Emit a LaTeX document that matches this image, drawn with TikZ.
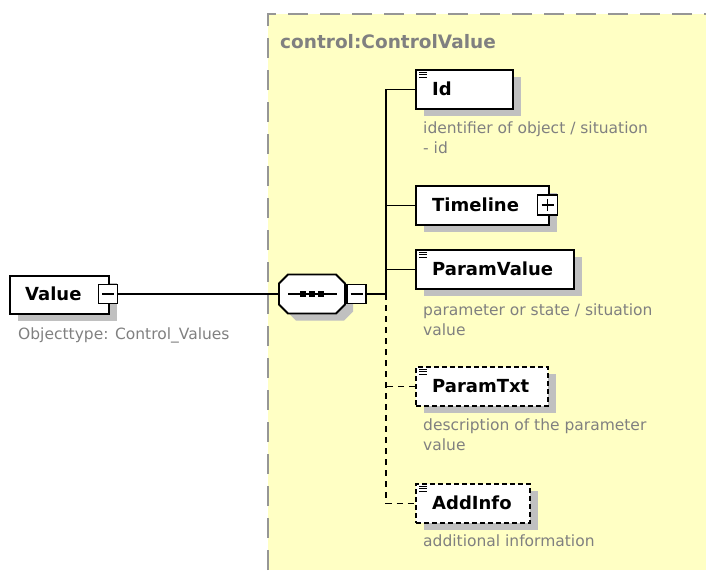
\documentclass[tikz,border=0pt]{standalone}
\usepackage{fontspec}
\setmainfont{DejaVu Sans}
\usetikzlibrary{shadows,calc}
\definecolor{bgyellow}{RGB}{255,255,196}
\definecolor{shadowgrey}{RGB}{192,192,192}
\definecolor{txtgrey}{RGB}{128,128,128}
\definecolor{bordergrey}{RGB}{150,150,150}
\begin{document}
\begin{tikzpicture}[x=1pt,y=-1pt,
  elem/.style={draw=black, line width=1.9pt, fill=white, minimum height=39pt, inner sep=0pt, anchor=north west,
    drop shadow={shadow xshift=8pt, shadow yshift=-7pt, fill=shadowgrey, opacity=1}},
  optelem/.style={elem, dash pattern=on 5pt off 3pt},
  lbl/.style={font=\bfseries\fontsize{18}{20}\selectfont, anchor=west, inner sep=0pt},
  desc/.style={font=\fontsize{15.5}{20}\selectfont, text=txtgrey, anchor=north west, inner sep=0pt, align=left},
  conn/.style={line width=1.8pt},
  optconn/.style={conn, dash pattern=on 6pt off 5pt},
  pm/.style={draw=black, fill=white, line width=1.4pt, minimum size=19pt, inner sep=0pt},
  icon/.style={line width=0.9pt},
]
\useasboundingbox (0,0) rectangle (706,570);
% background area
\fill[bgyellow] (268,14) rectangle (706,570);
\draw[bordergrey, line width=2pt, dash pattern=on 20pt off 12pt] (268,570) -- (268,14) -- (706,14);
\node[font=\bfseries\fontsize{18.5}{20}\selectfont, text=txtgrey, anchor=base west, inner sep=0pt] (title) at (280,48) {control:ControlValue};

% Value element
\node[elem, minimum width=99pt, minimum height=38pt] (val) at (9,275) {};
\node[lbl] (valt) at (25,294) {Value};
\node[pm] (vmin) at (108,294) {};
\draw[line width=1.3pt] ($(vmin.center)+(-6,0)$) -- ($(vmin.center)+(6,0)$);
\node[desc] (valdesc) at (18,328) {Objecttype: Control\_Values};

% sequence compositor
\fill[shadowgrey] (296,281.5) -- (344,281.5) -- (353,290.5) -- (353,311.5) -- (344,320.5) -- (296,320.5) -- (287,311.5) -- (287,290.5) -- cycle;
\draw[line width=1.9pt, fill=white] (288,274.5) -- (336,274.5) -- (345,283.5) -- (345,304.5) -- (336,313.5) -- (288,313.5) -- (279,304.5) -- (279,283.5) -- cycle;
\node[minimum width=66pt, minimum height=39pt, inner sep=0pt, anchor=west] (seq) at (279,294) {};
\draw[line width=1.4pt] ($(seq.center)+(-24,0)$) -- ($(seq.center)+(25,0)$);
\foreach \dx in {-9,0,9}
  \fill ($(seq.center)+(\dx-3,-3)$) rectangle ($(seq.center)+(\dx+3,3)$);
\node[pm] (smin) at (356.5,294) {};
\draw[line width=1.3pt] ($(smin.center)+(-6,0)$) -- ($(smin.center)+(6,0)$);
\draw[conn] (vmin.east) -- (seq.west);
\coordinate (tr) at (386,294);
\draw[conn] (smin.east) -- (tr);

% children
\node[elem, minimum width=97pt] (id) at (415,69) {};
\node[lbl] (idt) at (432,89) {Id};
\node[desc] (iddesc) at (423,122) {identifier of object / situation\\- id};

\node[elem, minimum width=133pt] (tl) at (415,185) {};
\node[lbl] (tlt) at (432,205) {Timeline};
\node[pm, minimum size=20pt] (tlp) at (547.5,205) {};
\draw[line width=1.3pt] ($(tlp.center)+(-6,0)$) -- ($(tlp.center)+(6,0)$) ($(tlp.center)+(0,-6)$) -- ($(tlp.center)+(0,6)$);

\node[elem, minimum width=158pt] (pv) at (415,249) {};
\node[lbl] (pvt) at (432,269) {ParamValue};
\node[desc] (pvdesc) at (423,304) {parameter or state / situation\\value};

\node[optelem, minimum width=132pt] (pt) at (415,366) {};
\node[lbl] (ptt) at (432,386) {ParamTxt};
\node[desc] (ptdesc) at (423,419) {description of the parameter\\value};

\node[optelem, minimum width=114pt] (ai) at (415,483) {};
\node[lbl] (ait) at (432,503) {AddInfo};
\node[desc] (aidesc) at (423,535) {additional information};

% annotation icons
\foreach \n in {id,pv,pt,ai}{
  \foreach \dy in {3,5.5,8}
    \draw[icon] ($(\n.north west)+(4,\dy)$) -- ++(8,0);
}

% connectors
\draw[conn] (tr) |- (id.west);
\draw[conn] (tl.west) -- (tl.west -| tr);
\draw[conn] (pv.west) -- (pv.west -| tr);
\draw[optconn] (tr) |- (ai.west);
\draw[optconn] (pt.west) -- (pt.west -| tr);
\end{tikzpicture}
\end{document}
